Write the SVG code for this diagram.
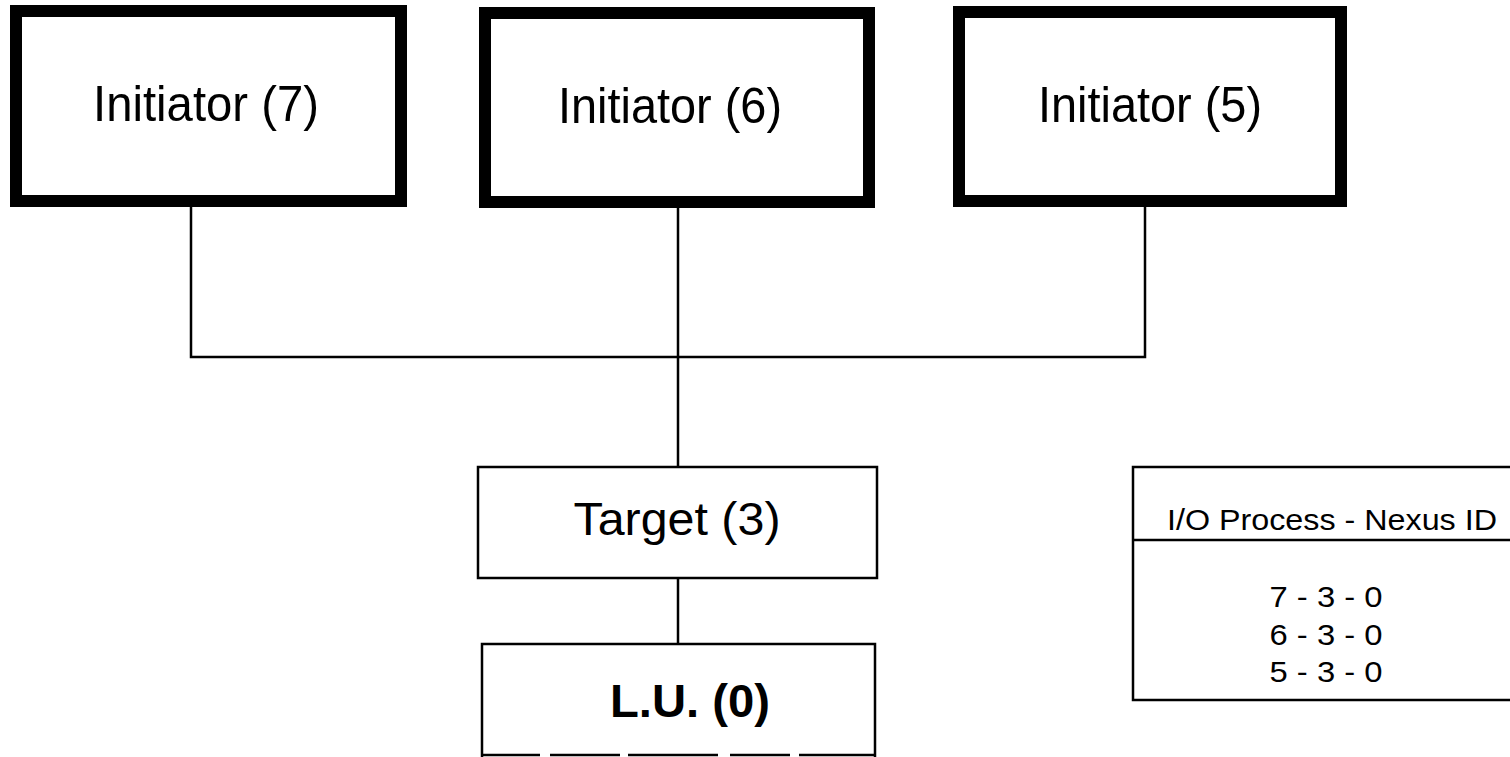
<svg xmlns="http://www.w3.org/2000/svg" width="1510" height="757" viewBox="0 0 1510 757">
  <style>
    .heavy { fill: #fff; stroke: #000; stroke-width: 12; }
    .thin { fill: #fff; stroke: #000; stroke-width: 2.5; }
    .wire { fill: none; stroke: #000; stroke-width: 2.5; }
    .lbl { font-family: "Liberation Sans", Arial, sans-serif; fill: #000; text-anchor: middle; }
    .big { font-size: 50px; }
    .mid { font-size: 47px; }
    .small { font-size: 30px; }
  </style>
  <rect width="1510" height="757" fill="#fff"/>

  <!-- bus wiring -->
  <g id="connectors">
    <path class="wire" d="M191,207 V357 H1145 V207"/>
    <path class="wire" d="M678,208 V467"/>
    <path class="wire" d="M678,578 V644"/>
  </g>

  <g id="initiator7">
    <rect class="heavy" x="16" y="11" width="385" height="190"/>
    <text class="lbl big" x="206" y="121" textLength="226" lengthAdjust="spacingAndGlyphs">Initiator (7)</text>
  </g>

  <g id="initiator6">
    <rect class="heavy" x="485" y="13" width="384" height="189"/>
    <text class="lbl big" x="670" y="123" textLength="224" lengthAdjust="spacingAndGlyphs">Initiator (6)</text>
  </g>

  <g id="initiator5">
    <rect class="heavy" x="959" y="12" width="382" height="189"/>
    <text class="lbl big" x="1150" y="122" textLength="224" lengthAdjust="spacingAndGlyphs">Initiator (5)</text>
  </g>

  <g id="target3">
    <rect class="thin" x="478" y="467" width="399" height="111"/>
    <text class="lbl mid" x="677" y="535" textLength="207" lengthAdjust="spacingAndGlyphs">Target (3)</text>
  </g>

  <g id="lu0">
    <path class="wire" d="M482,757 V644 H875 V757"/>
    <path class="wire" d="M482,755 H875" stroke-dasharray="58 10 70 8 90 12 60 9 100"/>
    <text class="lbl mid" x="690" y="717" font-weight="bold" textLength="160" lengthAdjust="spacingAndGlyphs">L.U. (0)</text>
  </g>

  <g id="nexus-table">
    <path class="wire" d="M1512,467 H1133 V700 H1512"/>
    <path class="wire" d="M1133,540 H1512"/>
    <text class="lbl small" x="1332" y="530" textLength="330" lengthAdjust="spacingAndGlyphs">I/O Process - Nexus ID</text>
    <text class="lbl small" x="1326" y="607" textLength="113" lengthAdjust="spacingAndGlyphs">7 - 3 - 0</text>
    <text class="lbl small" x="1326" y="645" textLength="113" lengthAdjust="spacingAndGlyphs">6 - 3 - 0</text>
    <text class="lbl small" x="1326" y="682" textLength="113" lengthAdjust="spacingAndGlyphs">5 - 3 - 0</text>
  </g>
</svg>
